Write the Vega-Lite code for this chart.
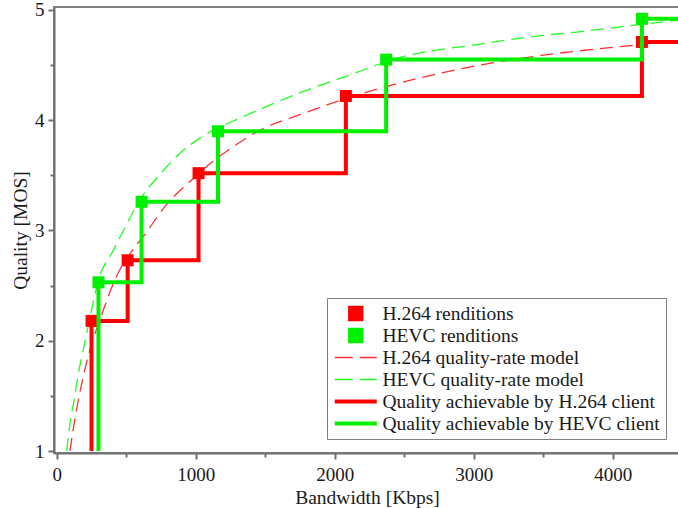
{
  "$schema": "https://vega.github.io/schema/vega-lite/v6.json",
  "width": 626,
  "height": 446,
  "autosize": {"type": "none"},
  "padding": {"left": 54, "top": 7, "right": 0, "bottom": 55},
  "background": "white",
  "config": {
    "font": "Liberation Serif",
    "view": {"stroke": "#808080", "strokeWidth": 2}
  },
  "data": {
    "values": [
      {"series": "H.264 quality-rate model", "x": 95, "y": 1.0},
      {"series": "H.264 quality-rate model", "x": 125, "y": 1.25},
      {"series": "H.264 quality-rate model", "x": 155, "y": 1.46},
      {"series": "H.264 quality-rate model", "x": 195, "y": 1.7},
      {"series": "H.264 quality-rate model", "x": 239, "y": 1.92},
      {"series": "H.264 quality-rate model", "x": 290, "y": 2.12},
      {"series": "H.264 quality-rate model", "x": 347, "y": 2.32},
      {"series": "H.264 quality-rate model", "x": 404, "y": 2.51},
      {"series": "H.264 quality-rate model", "x": 469, "y": 2.68},
      {"series": "H.264 quality-rate model", "x": 527, "y": 2.79},
      {"series": "H.264 quality-rate model", "x": 655, "y": 3.0},
      {"series": "H.264 quality-rate model", "x": 720, "y": 3.12},
      {"series": "H.264 quality-rate model", "x": 800, "y": 3.25},
      {"series": "H.264 quality-rate model", "x": 955, "y": 3.44},
      {"series": "H.264 quality-rate model", "x": 1031, "y": 3.53},
      {"series": "H.264 quality-rate model", "x": 1281, "y": 3.77},
      {"series": "H.264 quality-rate model", "x": 1462, "y": 3.91},
      {"series": "H.264 quality-rate model", "x": 1749, "y": 4.05},
      {"series": "H.264 quality-rate model", "x": 2037, "y": 4.18},
      {"series": "H.264 quality-rate model", "x": 2445, "y": 4.33},
      {"series": "H.264 quality-rate model", "x": 3043, "y": 4.5},
      {"series": "H.264 quality-rate model", "x": 3500, "y": 4.59},
      {"series": "H.264 quality-rate model", "x": 4145, "y": 4.68},
      {"series": "H.264 quality-rate model", "x": 4500, "y": 4.73},
      {"series": "HEVC quality-rate model", "x": 71, "y": 1.0},
      {"series": "HEVC quality-rate model", "x": 95, "y": 1.25},
      {"series": "HEVC quality-rate model", "x": 124, "y": 1.46},
      {"series": "HEVC quality-rate model", "x": 155, "y": 1.7},
      {"series": "HEVC quality-rate model", "x": 191, "y": 1.92},
      {"series": "HEVC quality-rate model", "x": 240, "y": 2.22},
      {"series": "HEVC quality-rate model", "x": 300, "y": 2.55},
      {"series": "HEVC quality-rate model", "x": 407, "y": 2.82},
      {"series": "HEVC quality-rate model", "x": 500, "y": 3.05},
      {"series": "HEVC quality-rate model", "x": 599, "y": 3.28},
      {"series": "HEVC quality-rate model", "x": 750, "y": 3.52},
      {"series": "HEVC quality-rate model", "x": 886, "y": 3.7},
      {"series": "HEVC quality-rate model", "x": 1031, "y": 3.84},
      {"series": "HEVC quality-rate model", "x": 1282, "y": 4.0},
      {"series": "HEVC quality-rate model", "x": 1390, "y": 4.06},
      {"series": "HEVC quality-rate model", "x": 1750, "y": 4.25},
      {"series": "HEVC quality-rate model", "x": 2109, "y": 4.41},
      {"series": "HEVC quality-rate model", "x": 2323, "y": 4.51},
      {"series": "HEVC quality-rate model", "x": 2417, "y": 4.55},
      {"series": "HEVC quality-rate model", "x": 3043, "y": 4.69},
      {"series": "HEVC quality-rate model", "x": 3500, "y": 4.77},
      {"series": "HEVC quality-rate model", "x": 3741, "y": 4.8},
      {"series": "HEVC quality-rate model", "x": 4209, "y": 4.87},
      {"series": "HEVC quality-rate model", "x": 4500, "y": 4.91},
      {"series": "Quality achievable by H.264 client", "i": 1, "x": 250, "y": 1.0},
      {"series": "Quality achievable by H.264 client", "i": 2, "x": 250, "y": 2.18},
      {"series": "Quality achievable by H.264 client", "i": 3, "x": 510, "y": 2.18},
      {"series": "Quality achievable by H.264 client", "i": 4, "x": 510, "y": 2.73},
      {"series": "Quality achievable by H.264 client", "i": 5, "x": 1020, "y": 2.73},
      {"series": "Quality achievable by H.264 client", "i": 6, "x": 1020, "y": 3.52},
      {"series": "Quality achievable by H.264 client", "i": 7, "x": 2080, "y": 3.52},
      {"series": "Quality achievable by H.264 client", "i": 8, "x": 2080, "y": 4.22},
      {"series": "Quality achievable by H.264 client", "i": 9, "x": 4210, "y": 4.22},
      {"series": "Quality achievable by H.264 client", "i": 10, "x": 4210, "y": 4.71},
      {"series": "Quality achievable by H.264 client", "i": 11, "x": 4500, "y": 4.71},
      {"series": "Quality achievable by HEVC client", "i": 1, "x": 300, "y": 1.0},
      {"series": "Quality achievable by HEVC client", "i": 2, "x": 300, "y": 2.53},
      {"series": "Quality achievable by HEVC client", "i": 3, "x": 610, "y": 2.53},
      {"series": "Quality achievable by HEVC client", "i": 4, "x": 610, "y": 3.26},
      {"series": "Quality achievable by HEVC client", "i": 5, "x": 1160, "y": 3.26},
      {"series": "Quality achievable by HEVC client", "i": 6, "x": 1160, "y": 3.9},
      {"series": "Quality achievable by HEVC client", "i": 7, "x": 2370, "y": 3.9},
      {"series": "Quality achievable by HEVC client", "i": 8, "x": 2370, "y": 4.55},
      {"series": "Quality achievable by HEVC client", "i": 9, "x": 4210, "y": 4.55},
      {"series": "Quality achievable by HEVC client", "i": 10, "x": 4210, "y": 4.92},
      {"series": "Quality achievable by HEVC client", "i": 11, "x": 4500, "y": 4.92},
      {"series": "H.264 renditions", "x": 250, "y": 2.18},
      {"series": "H.264 renditions", "x": 510, "y": 2.73},
      {"series": "H.264 renditions", "x": 1020, "y": 3.52},
      {"series": "H.264 renditions", "x": 2080, "y": 4.22},
      {"series": "H.264 renditions", "x": 4210, "y": 4.71},
      {"series": "HEVC renditions", "x": 300, "y": 2.53},
      {"series": "HEVC renditions", "x": 610, "y": 3.26},
      {"series": "HEVC renditions", "x": 1160, "y": 3.9},
      {"series": "HEVC renditions", "x": 2370, "y": 4.55},
      {"series": "HEVC renditions", "x": 4210, "y": 4.92}
    ]
  },
  "encoding": {
    "x": {
      "field": "x",
      "type": "quantitative",
      "scale": {"domain": [-20, 4484], "nice": false, "zero": false},
      "axis": {
        "title": "Bandwidth [Kbps]",
        "values": [0, 500, 1000, 1500, 2000, 2500, 3000, 3500, 4000],
        "labelExpr": "datum.value % 1000 === 0 ? format(datum.value, 'd') : ''",
        "grid": false,
        "domainColor": "#707070",
        "domainWidth": 2,
        "tickColor": "#707070",
        "tickWidth": 2,
        "tickSize": {"condition": {"test": "datum.value % 1000 === 0", "value": 6}, "value": 4},
        "labelFontSize": 19,
        "labelColor": "#1a1a1a",
        "labelPadding": 6,
        "labelFlush": false,
        "titleFontSize": 19.5,
        "titleFontWeight": "normal",
        "titleColor": "#1a1a1a",
        "titlePadding": 4
      }
    },
    "y": {
      "field": "y",
      "type": "quantitative",
      "scale": {"domain": [0.982, 5.027], "nice": false, "zero": false},
      "axis": {
        "title": "Quality [MOS]",
        "values": [1, 1.5, 2, 2.5, 3, 3.5, 4, 4.5, 5],
        "labelExpr": "datum.value % 1 === 0 ? format(datum.value, 'd') : ''",
        "grid": false,
        "domainColor": "#707070",
        "domainWidth": 2,
        "tickColor": "#707070",
        "tickWidth": 2,
        "tickSize": {"condition": {"test": "datum.value % 1 === 0", "value": 6}, "value": 4},
        "labelFontSize": 19,
        "labelColor": "#1a1a1a",
        "labelPadding": 4,
        "labelFlush": false,
        "titleFontSize": 19.5,
        "titleFontWeight": "normal",
        "titleColor": "#1a1a1a",
        "titlePadding": 4
      }
    },
    "color": {
      "field": "series",
      "type": "nominal",
      "scale": {
        "domain": ["H.264 renditions", "HEVC renditions", "H.264 quality-rate model", "HEVC quality-rate model", "Quality achievable by H.264 client", "Quality achievable by HEVC client"],
        "range": ["#ff0000", "#00f000", "#ff3030", "#20ff20", "#ff0000", "#00f000"]
      },
      "legend": {
        "title": null,
        "orient": "none",
        "legendX": 273,
        "legendY": 291,
        "columns": 1,
        "clipHeight": 19,
        "labelFont": "Liberation Serif",
        "labelFontSize": 19.5,
        "labelColor": "#1a1a1a",
        "labelLimit": 0,
        "labelOffset": 17,
        "strokeColor": "#808080",
        "fillColor": "white",
        "padding": 6,
        "rowPadding": 2,
        "symbolSize": 1764,
        "symbolOffset": 13,
        "symbolStrokeWidth": 4,
        "symbolType": "stroke",
        "encode": {
          "symbols": {
            "update": {
              "shape": {"signal": "indexof(datum.value || datum, 'renditions') >= 0 ? 'M-0.27,-0.27L0.27,-0.27L0.27,0.27L-0.27,0.27Z' : 'stroke'"},
              "fill": {"signal": "(datum.value || datum) == 'H.264 renditions' ? '#ff0000' : (datum.value || datum) == 'HEVC renditions' ? '#00f000' : 'transparent'"},
              "stroke": {"signal": "(datum.value || datum) == 'H.264 quality-rate model' ? '#ff7070' : (datum.value || datum) == 'HEVC quality-rate model' ? '#60ff60' : (datum.value || datum) == 'Quality achievable by H.264 client' ? '#ff0000' : (datum.value || datum) == 'Quality achievable by HEVC client' ? '#00f000' : 'transparent'"},
              "strokeWidth": {"signal": "indexof(datum.value || datum, 'model') >= 0 ? 1.6 : 4"},
              "strokeDash": {"signal": "indexof(datum.value || datum, 'model') >= 0 ? [18, 7] : [1, 0]"},
              "opacity": {"value": 1}
            }
          }
        }
      }
    }
  },
  "layer": [
    {
      "transform": [{"filter": "indexof(datum.series, 'model') >= 0"}],
      "mark": {"type": "line", "strokeWidth": 1.3, "strokeDash": [13, 7], "interpolate": "monotone", "clip": true}
    },
    {
      "transform": [{"filter": "datum.series === 'Quality achievable by H.264 client'"}],
      "mark": {"type": "line", "strokeWidth": 4, "clip": true},
      "encoding": {"order": {"field": "i", "type": "quantitative"}}
    },
    {
      "transform": [{"filter": "datum.series === 'H.264 renditions'"}],
      "mark": {"type": "point", "shape": "square", "filled": true, "size": 144, "opacity": 1, "clip": true}
    },
    {
      "transform": [{"filter": "datum.series === 'Quality achievable by HEVC client'"}],
      "mark": {"type": "line", "strokeWidth": 4, "clip": true},
      "encoding": {"order": {"field": "i", "type": "quantitative"}}
    },
    {
      "transform": [{"filter": "datum.series === 'HEVC renditions'"}],
      "mark": {"type": "point", "shape": "square", "filled": true, "size": 144, "opacity": 1, "clip": true}
    }
  ]
}
